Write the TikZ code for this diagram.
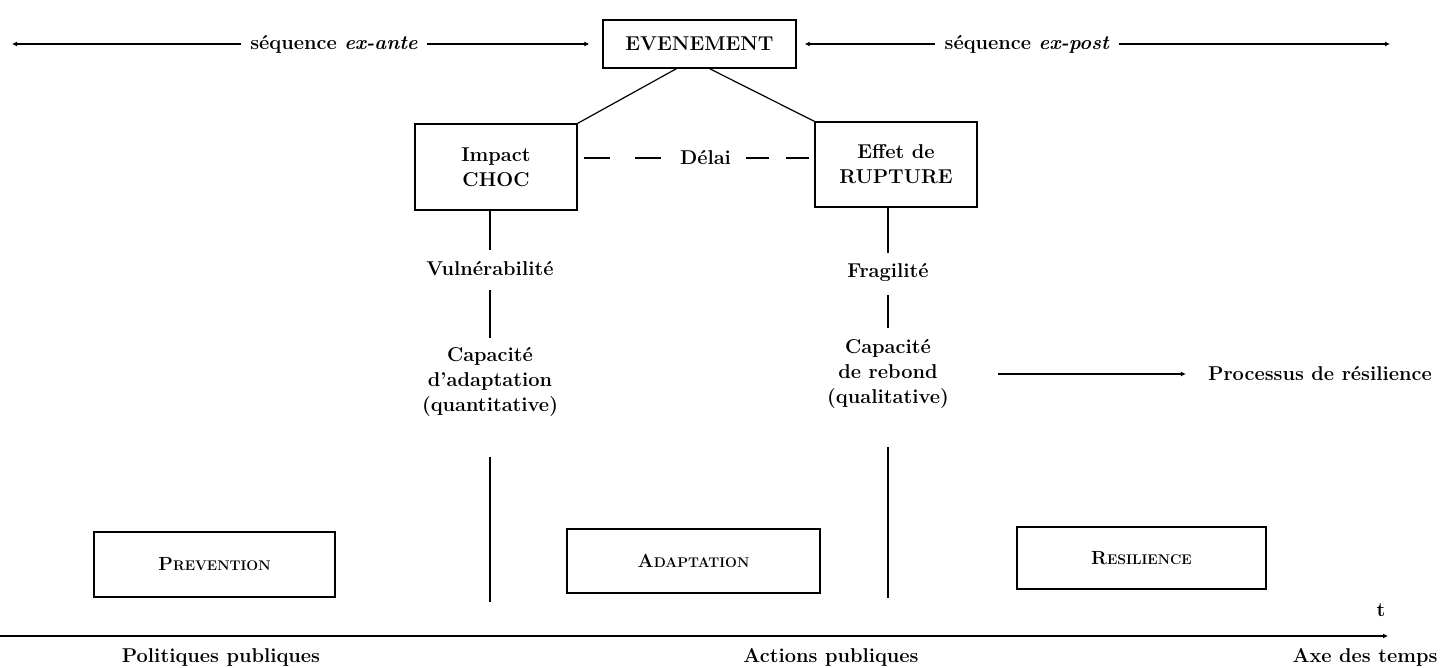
\documentclass[tikz,border=0pt]{standalone}
\usetikzlibrary{arrows.meta}
\begin{document}
\begin{tikzpicture}[x=1pt,y=-1pt,
  every node/.style={font=\fontsize{20}{25}\selectfont\bfseries, align=center, inner sep=0pt},
  box/.style={draw, line width=1.3pt},
  ln/.style={line width=1.2pt},
  arr/.style={line width=1.1pt, -{Latex[length=5pt,width=5pt]}},
  sc/.style={font=\fontsize{19}{22}\selectfont\bfseries}]
\useasboundingbox (0,0) rectangle (1441,668);
% top row
\node[box, minimum width=193pt, minimum height=48pt] (ev) at (699.5,44) {EVENEMENT};
\node[inner xsep=9pt] (ante) at (334,44) {séquence \textit{ex-ante}};
\node[inner xsep=9pt] (post) at (1027,44) {séquence \textit{ex-post}};
\coordinate (la) at (12,44);
\coordinate (ra) at (1390,44);
\draw[arr] (ante.west) -- (la);
\draw[arr, shorten >=13pt] (ante.east) -- (ev.west);
\draw[arr, shorten >=8pt] (post.west) -- (ev.east);
\draw[arr] (post.east) -- (ra);
% second row
\node[box, minimum width=162pt, minimum height=86pt] (imp) at (496,167) {Impact\\CHOC};
\node[box, minimum width=162pt, minimum height=85pt] (eff) at (896,164.5) {Effet de\\RUPTURE};
\draw[ln] ([xshift=-23pt]ev.south) -- (imp.north east);
\draw[ln] ([xshift=10pt]ev.south) -- (eff.north west);
\node[inner xsep=14pt] (dl) at (705.5,158) {Délai};
\draw[ln, dash pattern=on 26pt off 25pt, shorten <=6pt] (imp.east |- dl.west) -- (dl.west);
\draw[ln, dash pattern=on 23pt off 17pt, shorten <=5pt] (eff.west |- dl.east) -- (dl.east);
% left column
\node (vul) at (490,269) {Vulnérabilité};
\node (cap1) at (490,382) {Capacité\\d’adaptation\\(quantitative)};
\coordinate (t0) at (0,636);
\coordinate (t1) at (1388,636);
\draw[ln, shorten >=19pt] (imp.south -| vul) -- (vul.center);
\draw[ln, shorten <=21pt, shorten >=44pt] (vul.center) -- (cap1.center);
\draw[ln, shorten <=75pt, shorten >=34pt] (cap1.center) -- (cap1 |- t0);
% right column
\node (frag) at (888,272) {Fragilité};
\node (cap2) at (888,374) {Capacité\\de rebond\\(qualitative)};
\draw[ln, shorten >=19pt] (eff.south -| frag) -- (frag.center);
\draw[ln, shorten <=23pt, shorten >=46pt] (frag.center) -- (cap2.center);
\draw[ln, shorten <=73pt, shorten >=38pt] (cap2.center) -- (cap2 |- t0);
\node (proc) at (1320,374) {Processus de résilience};
\draw[arr, shorten <=110pt, shorten >=22pt] (cap2.center) -- (proc.west);
% bottom boxes
\node[box, sc, minimum width=241pt, minimum height=65pt] (prev) at (214.5,564.5) {P{\fontsize{14}{16}\selectfont REVENTION}};
\node[box, sc, minimum width=253pt, minimum height=64pt] (adap) at (693.5,561) {A{\fontsize{14}{16}\selectfont DAPTATION}};
\node[box, sc, minimum width=249pt, minimum height=62pt] (res) at (1141.5,558) {R{\fontsize{14}{16}\selectfont ESILIENCE}};
% time axis
\draw[arr] (t0) -- (t1);
\node (t) at (1381,610) {t};
\node (pol) at (221,657) {Politiques publiques};
\node (act) at (831,657) {Actions publiques};
\node (axe) at (1365,657) {Axe des temps};
\end{tikzpicture}
\end{document}
